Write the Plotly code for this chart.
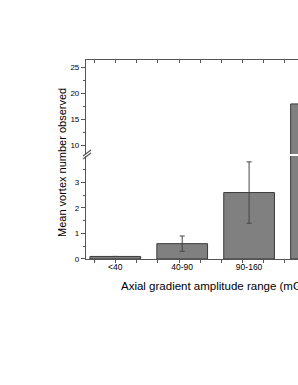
import plotly.graph_objects as go

categories = ["<40", "40-90", "90-160", ">160"]
mean_vortex = [0.1, 0.6, 2.6, 18.0]
err = [0.0, 0.3, 1.2, 4.0]

x_title = "Axial gradient amplitude range (mG/cm)"
y_title = "Mean vortex number observed"

W, H = 298, 385
L, T = 86, 60
BOT = 259
B = H - BOT
PW, PH = W - L, BOT - T

def px(x):
    return (x - L) / PW

def py(y):
    return (BOT - y) / PH

font = "Arial, Liberation Sans, sans-serif"
xs = list(range(len(categories)))
bar_fill = "#808080"
bar_line = dict(color="#3a3a3a", width=1)
axcol = "#555555"

fig = go.Figure()
fig.add_trace(go.Bar(
    x=xs, y=mean_vortex, xaxis="x", yaxis="y",
    marker=dict(color=bar_fill, line=bar_line),
    error_y=dict(type="data", array=err, color="#444444", thickness=1, width=2.5),
    showlegend=False,
))
fig.add_trace(go.Bar(
    x=xs, y=mean_vortex, xaxis="x2", yaxis="y2",
    marker=dict(color=bar_fill, line=bar_line),
    showlegend=False,
))

xr = [-0.438, 2.731]
split_lo = 0.5176
split_hi = 0.5276

fig.update_layout(
    width=W, height=H,
    margin=dict(l=L, r=0, t=T, b=B, pad=0),
    paper_bgcolor="white", plot_bgcolor="white",
    bargap=0.242,
    font=dict(family=font, size=8.5, color="black"),
    xaxis=dict(
        range=xr, domain=[0, 1], anchor="y",
        tickmode="array", tickvals=xs, ticktext=categories,
        ticks="", showline=True, linecolor=axcol, linewidth=1.2,
        showgrid=False, zeroline=False, tickfont=dict(size=8.5),
        minor=dict(ticks="outside", ticklen=3, tickwidth=1, tickcolor=axcol,
                   tick0=0.006, dtick=0.3155, showgrid=False),
    ),
    xaxis2=dict(
        range=xr, domain=[0, 1], anchor="y2", side="top",
        showticklabels=False, tickmode="linear", tick0=0.006, dtick=0.3155,
        ticks="inside", ticklen=3, tickcolor=axcol, tickwidth=1,
        showline=True, linecolor=axcol, linewidth=1.2,
        showgrid=False, zeroline=False,
    ),
    yaxis=dict(
        range=[0, 4.03], domain=[0, split_lo], anchor="x",
        tickmode="array", tickvals=[0, 1, 2, 3],
        ticks="outside", ticklen=4, tickwidth=1, tickcolor=axcol,
        showline=True, linecolor=axcol, linewidth=1.2,
        showgrid=False, zeroline=False, tickfont=dict(size=8),
        minor=dict(ticks="outside", ticklen=2, tickwidth=1, tickcolor=axcol,
                   tickvals=[0.5, 1.5, 2.5, 3.5], showgrid=False),
    ),
    yaxis2=dict(
        range=[8.34, 26.47], domain=[split_hi, 1], anchor="x2",
        tickmode="array", tickvals=[10, 15, 20, 25],
        ticks="outside", ticklen=4, tickwidth=1, tickcolor=axcol,
        showline=True, linecolor=axcol, linewidth=1.2,
        showgrid=False, zeroline=False, tickfont=dict(size=8),
        minor=dict(ticks="outside", ticklen=2, tickwidth=1, tickcolor=axcol,
                   tickvals=[12.5, 17.5, 22.5], showgrid=False),
    ),
    shapes=[
        dict(type="line", xref="paper", yref="paper",
             x0=px(83), y0=py(156), x1=px(91), y1=py(150),
             line=dict(color=axcol, width=1.1)),
        dict(type="line", xref="paper", yref="paper",
             x0=px(83), y0=py(159), x1=px(91), y1=py(153),
             line=dict(color=axcol, width=1.1)),
    ],
    annotations=[
        dict(text=y_title, xref="paper", yref="paper", x=px(62), y=py(163),
             textangle=-90, showarrow=False, xanchor="center", yanchor="middle",
             font=dict(size=11, family=font, color="black")),
        dict(text=x_title, xref="paper", yref="paper", x=px(119), y=py(286),
             showarrow=False, xanchor="left", yanchor="middle",
             font=dict(size=11.5, family=font, color="black")),
    ],
)

fig.write_html(
    "out.html",
    config={"displayModeBar": False},
    post_script="document.body.style.margin='0';document.body.style.overflow='hidden';"
                "document.documentElement.style.overflow='hidden';",
)
